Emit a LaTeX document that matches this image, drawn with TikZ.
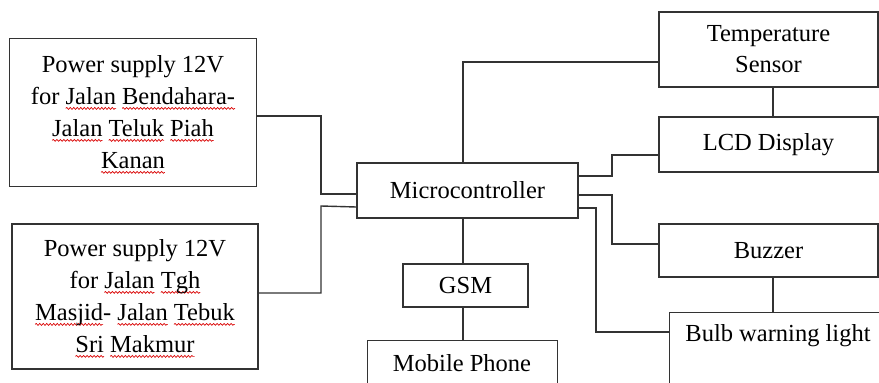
\documentclass[tikz,border=0pt]{standalone}
\usepackage{fontspec}
\setmainfont{Liberation Serif}
\usetikzlibrary{decorations.pathmorphing}
\newdimen\wvlen
\newcommand\redwave[1]{\settowidth\wvlen{#1}\rlap{\tikz[baseline=0pt, overlay]{%
  \draw[draw=red!85!black, line width=0.7pt, decorate, decoration={snake, amplitude=0.9pt, segment length=3.5pt}]
    (0pt,-3.5pt) -- (\wvlen,-3.5pt);}}#1}
\begin{document}
\begin{tikzpicture}[x=1pt,y=-1pt,
  box/.style={draw=black!80, line width=1.4pt, rectangle, inner sep=0pt, align=center,
    font=\fontsize{24.5}{32}\selectfont},
  lbl/.style={inner sep=0pt, font=\fontsize{24.5}{32}\selectfont},
  wire/.style={draw=black!80, line width=1.4pt}]
\useasboundingbox (0,0) rectangle (879,383);
\begin{scope}
\clip (0,0) rectangle (879,383);
% boxes
\node[box, minimum width=247pt, minimum height=148pt] (ps1) at (133,112.5)
  {Power supply 12V\\for \redwave{Jalan} \redwave{Bendahara-}\\\redwave{Jalan} \redwave{Teluk} \redwave{Piah}\\\redwave{Kanan}};
\node[box, minimum width=246pt, minimum height=145pt] (ps2) at (135,296.5)
  {Power supply 12V\\for \redwave{Jalan} \redwave{Tgh}\\\redwave{Masjid}- \redwave{Jalan} \redwave{Tebuk}\\\redwave{Sri} \redwave{Makmur}};
\node[box, minimum width=221pt, minimum height=55pt] (mc) at (467.5,190.5) {Microcontroller};
\node[box, minimum width=219pt, minimum height=75pt, font=\fontsize{24.5}{31}\selectfont] (temp) at (768.5,49.5) {Temperature\\Sensor};
\node[box, minimum width=219pt, minimum height=55pt] (lcd) at (768.5,144.5) {LCD Display};
\node[box, minimum width=219pt, minimum height=53pt] (buz) at (768.5,250.5) {Buzzer};
\node[box, minimum width=240pt, minimum height=110pt, anchor=north west] (bulb) at (669,312) {};
\node[lbl] (bulbt) at (778,336) {Bulb warning light};
\node[box, minimum width=125pt, minimum height=43pt] (gsm) at (465.5,285.5) {GSM};
\node[box, minimum width=190pt, minimum height=80pt, anchor=north west] (mob) at (367,340) {};
\node[lbl] (mobt) at (462,363) {Mobile Phone};
% connectors
\draw[wire] (ps1.east |- 0,116) -| (321,194) -- (mc.west |- 0,194);
\draw[wire] (ps2.east |- 0,293) -| (321,206) -- (mc.west |- 0,207);
\draw[wire] (mc.north -| 463,0) |- (temp.west |- 0,62);
\draw[wire] (mc.east |- 0,176) -| (612,155) -- (lcd.west |- 0,155);
\draw[wire] (mc.east |- 0,195) -| (612,244) -- (buz.west |- 0,244);
\draw[wire] (mc.east |- 0,208) -| (596,332) -- (bulb.west |- 0,332);
\draw[wire] (temp.south -| 773,0) -- (lcd.north -| 773,0);
\draw[wire] (buz.south -| 773,0) -- (bulb.north -| 773,0);
\draw[wire] (mc.south -| 463,0) -- (gsm.north -| 463,0);
\draw[wire] (gsm.south -| 463,0) -- (mob.north -| 463,0);
\end{scope}
\end{tikzpicture}
\end{document}
